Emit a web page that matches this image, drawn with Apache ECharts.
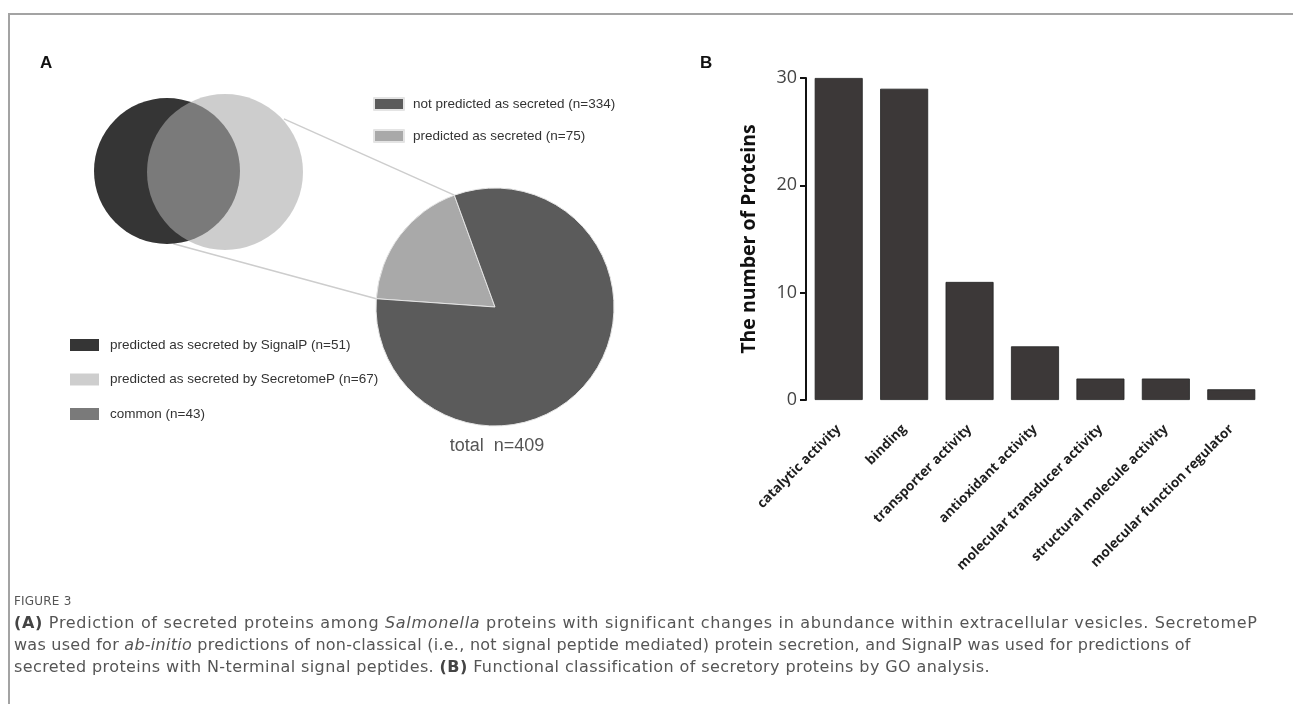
<!DOCTYPE html>
<html>
<head>
<meta charset="utf-8">
<script src="https://cdn.jsdelivr.net/npm/echarts@6/dist/echarts.min.js"></script>
<style>
  html, body { margin: 0; padding: 0; background: #fff; }
  #wrap { position: relative; width: 1293px; height: 704px; overflow: hidden; }
  #frame { position: absolute; left: 8px; top: 13px; width: 1300px; height: 700px;
           border-top: 2px solid #a3a3a3; border-left: 2px solid #a3a3a3; box-sizing: border-box; }
  #chart { position: absolute; left: 0; top: 0; width: 1293px; height: 704px; }
  #caption { position: absolute; left: 14px; top: 590px; width: 1275px;
             font-family: "DejaVu Sans", sans-serif; color: #555; }
  #caption .fig { font-size: 12px; line-height: 22px; letter-spacing: 0.2px; }
  #caption .ln { font-size: 16px; line-height: 22px; white-space: nowrap; letter-spacing: 0.4px; }
  #caption .l1 { letter-spacing: 0.68px; }
  #caption .l2 { letter-spacing: 0.26px; }
  #caption b { color: #444; }
</style>
</head>
<body>
<div id="wrap">
  <div id="frame"></div>
  <div id="chart"></div>
  <div id="caption">
    <div class="fig">FIGURE 3</div>
    <div class="ln l1"><b>(A)</b> Prediction of secreted proteins among <i>Salmonella</i> proteins with significant changes in abundance within extracellular vesicles. SecretomeP</div>
    <div class="ln l2">was used for <i>ab-initio</i> predictions of non-classical (i.e., not signal peptide mediated) protein secretion, and SignalP was used for predictions of</div>
    <div class="ln">secreted proteins with N-terminal signal peptides. <b>(B)</b> Functional classification of secretory proteins by GO analysis.</div>
  </div>
</div>
<script>
// Panel A: secretion prediction (pie) and the two predictor sets (Venn)
const pieNames = ['not predicted as secreted (n=334)', 'predicted as secreted (n=75)'];
const pieValues = [334, 75];
const pieTotal = 409;

const vennNames = ['predicted as secreted by SignalP (n=51)',
                   'predicted as secreted by SecretomeP (n=67)',
                   'common (n=43)'];
const vennCounts = [51, 67, 43];
const vennSets = ['SignalP', 'SecretomeP'];

// Panel B: GO molecular function classes
const goCategories = ['catalytic activity', 'binding', 'transporter activity',
  'antioxidant activity', 'molecular transducer activity',
  'structural molecule activity', 'molecular function regulator'];
const goCounts = [30, 29, 11, 5, 2, 2, 1];
const yTicks = [0, 10, 20, 30];

// layout
const PIE = { cx: 495, cy: 307, r: 119 };
const VENN = { left: 167, width: 58, cy: 171, rDark: 73, rLight: 78 };
const secretedSweep = pieValues[1] / pieTotal * 360;
const secretedEnd = 110;                       // edge of the secreted slice (deg, ccw from east)
const pieStart = secretedEnd + secretedSweep;  // slice drawn clockwise from here

const chart = echarts.init(document.getElementById('chart'), null, { renderer: 'canvas' });

function polar(cx, cy, r, deg) {
  const a = deg * Math.PI / 180;
  return [cx + r * Math.cos(a), cy - r * Math.sin(a)];
}
const lightC = [VENN.left + VENN.width, VENN.cy - 1];
const darkC = [VENN.left, VENN.cy];
const p1a = polar(lightC[0], lightC[1], VENN.rLight, 41);
const p1b = polar(PIE.cx, PIE.cy, PIE.r, secretedEnd);
const p2a = polar(darkC[0], darkC[1], VENN.rDark, -85);
const p2b = polar(PIE.cx, PIE.cy, PIE.r, pieStart);

const labelFont = 'Liberation Sans, Arial, sans-serif';

const option = {
  animation: false,
  backgroundColor: 'transparent',
  grid: [
    { left: VENN.left, width: VENN.width, top: VENN.cy - 50, height: 100, show: false },
    { left: 806, right: 29, top: 78, bottom: 304, show: false }
  ],
  xAxis: [
    { gridIndex: 0, type: 'category', data: vennSets, boundaryGap: false, show: false },
    {
      gridIndex: 1, type: 'category', data: goCategories,
      axisLine: { show: false }, axisTick: { show: false },
      axisLabel: {
        interval: 0, rotate: 45, margin: 27,
        fontFamily: 'Open Sans, sans-serif', fontWeight: 700, fontSize: 13.5, color: '#1e1e1e'
      }
    }
  ],
  yAxis: [
    { gridIndex: 0, type: 'value', min: -1, max: 1, show: false },
    {
      gridIndex: 1, type: 'value', min: 0, max: 30, interval: 10,
      name: 'The number of Proteins', nameLocation: 'middle', nameGap: 47,
      nameTextStyle: { fontFamily: 'Open Sans, sans-serif', fontWeight: 700, fontSize: 19.5, color: '#111' },
      axisLine: { show: true, lineStyle: { color: '#111', width: 2 } },
      axisTick: { show: true, length: 6, lineStyle: { color: '#111', width: 2 } },
      axisLabel: { margin: 9, fontFamily: 'Open Sans, sans-serif', fontSize: 18, color: '#444',
                   formatter: v => yTicks.includes(v) ? String(v) : '' },
      splitLine: { show: false }
    }
  ],
  legend: [
    {
      left: 368, top: 92, orient: 'vertical', itemWidth: 30, itemHeight: 12, itemGap: 18,
      selectedMode: false, icon: 'rect',
      data: [
        { name: pieNames[0], itemStyle: { color: '#5b5b5b', opacity: 1 } },
        { name: pieNames[1], itemStyle: { color: '#a9a9a9', opacity: 1 } }
      ],
      textStyle: { fontFamily: labelFont, fontSize: 13.5, color: '#333', padding: [0, 0, 0, 4] }
    },
    {
      left: 65, top: 333, orient: 'vertical', itemWidth: 29, itemHeight: 12, itemGap: 20.5,
      selectedMode: false, icon: 'rect',
      data: [
        { name: vennNames[0], itemStyle: { color: '#353535', opacity: 1 } },
        { name: vennNames[1], itemStyle: { color: '#cecece', opacity: 1 } },
        { name: vennNames[2], itemStyle: { color: '#7a7a7a', opacity: 1 } }
      ],
      textStyle: { fontFamily: labelFont, fontSize: 13.5, color: '#333', padding: [0, 0, 0, 6] }
    }
  ],
  series: [
    {
      type: 'scatter', name: vennNames[0], xAxisIndex: 0, yAxisIndex: 0,
      data: [[vennSets[0], 0, vennCounts[0]]], symbolSize: VENN.rDark * 2,
      itemStyle: { color: '#353535', opacity: 1 }, silent: true, z: 2
    },
    {
      type: 'scatter', name: vennNames[1], xAxisIndex: 0, yAxisIndex: 0,
      data: [[vennSets[1], -0.02, vennCounts[1]]], symbolSize: VENN.rLight * 2,
      itemStyle: { color: '#ababab', opacity: 0.594 }, silent: true, z: 3
    },
    {
      type: 'scatter', name: vennNames[2], xAxisIndex: 0, yAxisIndex: 0,
      data: [], itemStyle: { color: '#7a7a7a', opacity: 1 }
    },
    {
      type: 'pie', name: 'secretion', center: [PIE.cx, PIE.cy], radius: PIE.r,
      startAngle: pieStart, clockwise: true, silent: true,
      label: { show: false }, labelLine: { show: false },
      itemStyle: { borderColor: '#e4e4e4', borderWidth: 1 },
      data: [
        { name: pieNames[1], value: pieValues[1], itemStyle: { color: '#a9a9a9' } },
        { name: pieNames[0], value: pieValues[0], itemStyle: { color: '#5b5b5b' } }
      ],
      z: 3
    },
    {
      type: 'bar', name: 'GO', xAxisIndex: 1, yAxisIndex: 1,
      data: goCounts, barWidth: 48,
      itemStyle: { color: '#3c3838', borderColor: '#222', borderWidth: 0.8 }
    }
  ],
  graphic: [
    { type: 'line', z: 1, shape: { x1: p1a[0], y1: p1a[1], x2: p1b[0], y2: p1b[1] },
      style: { stroke: '#cdcdcd', lineWidth: 1.5 } },
    { type: 'line', z: 1, shape: { x1: p2a[0], y1: p2a[1], x2: p2b[0], y2: p2b[1] },
      style: { stroke: '#cdcdcd', lineWidth: 1.5 } },
    { type: 'text', x: PIE.cx + 2, y: PIE.cy + PIE.r + 20,
      style: { text: 'total  n=' + pieTotal, font: '18px ' + labelFont, fill: '#555',
               textAlign: 'center', textVerticalAlign: 'middle' } },
    { type: 'text', left: 40, top: 55,
      style: { text: 'A', font: 'bold 17px ' + labelFont, fill: '#111' } },
    { type: 'text', left: 700, top: 55,
      style: { text: 'B', font: 'bold 17px ' + labelFont, fill: '#111' } }
  ]
};
chart.setOption(option);
</script>
</body>
</html>
